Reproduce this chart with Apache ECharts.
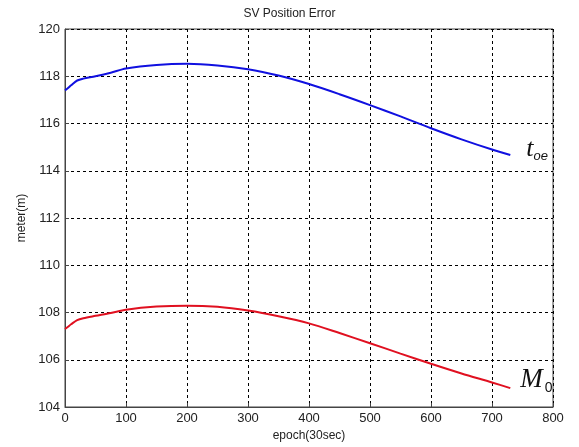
<!DOCTYPE html>
<html>
<head>
<meta charset="utf-8">
<script src="https://cdn.jsdelivr.net/npm/echarts@6/dist/echarts.min.js"></script>
<style>html,body{margin:0;padding:0;background:#fff}#c{width:579px;height:447px}</style>
</head>
<body>
<div id="c"></div>
<script>
var epochs = [0, 5, 10, 20, 30, 50, 75, 100, 150, 200, 250, 300, 350, 400, 450, 500, 550, 600, 650, 700, 730];
var toeError = [117.40, 117.50, 117.62, 117.82, 117.90, 118.00, 118.15, 118.33, 118.48, 118.53, 118.46, 118.30, 118.03, 117.67, 117.24, 116.78, 116.30, 115.80, 115.33, 114.90, 114.67];
var m0Error = [107.30, 107.40, 107.50, 107.68, 107.76, 107.86, 107.98, 108.12, 108.25, 108.29, 108.24, 108.08, 107.84, 107.54, 107.13, 106.70, 106.26, 105.83, 105.42, 105.04, 104.80];
var xTicks = [0, 100, 200, 300, 400, 500, 600, 700, 800];
var yTicks = [104, 106, 108, 110, 112, 114, 116, 118, 120];

function pairs(xs, ys) { return xs.map(function (x, i) { return [x, ys[i]]; }); }

var font = 'Liberation Sans, Arial, sans-serif';
var chart = echarts.init(document.getElementById('c'));
chart.setOption({
  animation: false,
  backgroundColor: '#fff',
  title: {
    text: 'SV Position Error', left: 'center', top: 3,
    textStyle: { fontFamily: font, fontSize: 12, fontWeight: 'normal', color: '#222' }
  },
  grid: { left: 65, right: 26, top: 29, bottom: 39, show: true, borderColor: '#444', borderWidth: 1 },
  xAxis: {
    type: 'value', min: xTicks[0], max: xTicks[xTicks.length - 1], interval: 100,
    name: 'epoch(30sec)', nameLocation: 'middle', nameGap: 23,
    nameTextStyle: { fontFamily: font, fontSize: 12, color: '#222' },
    axisLine: { lineStyle: { color: '#444' } },
    axisTick: { inside: true, length: 4, lineStyle: { color: '#444' } },
    axisLabel: { fontFamily: font, fontSize: 13, color: '#222', margin: 5 },
    splitLine: { show: true, lineStyle: { color: '#000', type: [3, 3], width: 1 } }
  },
  yAxis: {
    type: 'value', min: yTicks[0], max: yTicks[yTicks.length - 1], interval: 2,
    name: 'meter(m)', nameLocation: 'middle', nameGap: 36,
    nameTextStyle: { fontFamily: font, fontSize: 12, color: '#222' },
    axisLine: { show: true, lineStyle: { color: '#444' } },
    axisTick: { show: true, inside: true, length: 4, lineStyle: { color: '#444' } },
    axisLabel: { fontFamily: font, fontSize: 13, color: '#222', margin: 5 },
    splitLine: { show: true, lineStyle: { color: '#000', type: [3, 3], width: 1 } }
  },
  series: [
    {
      type: 'line', data: pairs(epochs, toeError), smooth: 0.3, showSymbol: false,
      lineStyle: { color: '#1010e0', width: 2 },
      endLabel: {
        show: true, offset: [8, -6],
        formatter: '{a|t}{b|oe}',
        rich: {
          a: { fontFamily: 'Liberation Serif, Times New Roman, serif', fontStyle: 'italic', fontSize: 26, color: '#111' },
          b: { fontFamily: 'Liberation Sans, Arial, sans-serif', fontStyle: 'italic', fontSize: 13, color: '#111', padding: [14, 0, 0, 0] }
        }
      }
    },
    {
      type: 'line', data: pairs(epochs, m0Error), smooth: 0.3, showSymbol: false,
      lineStyle: { color: '#e01020', width: 2 },
      endLabel: {
        show: true, offset: [2, -8],
        formatter: '{a|M}{b|0}',
        rich: {
          a: { fontFamily: 'Liberation Serif, Times New Roman, serif', fontStyle: 'italic', fontSize: 27, color: '#111' },
          b: { fontFamily: 'Liberation Sans, Arial, sans-serif', fontSize: 14, color: '#111', padding: [16, 0, 0, 2] }
        }
      }
    }
  ]
});
</script>
</body>
</html>
